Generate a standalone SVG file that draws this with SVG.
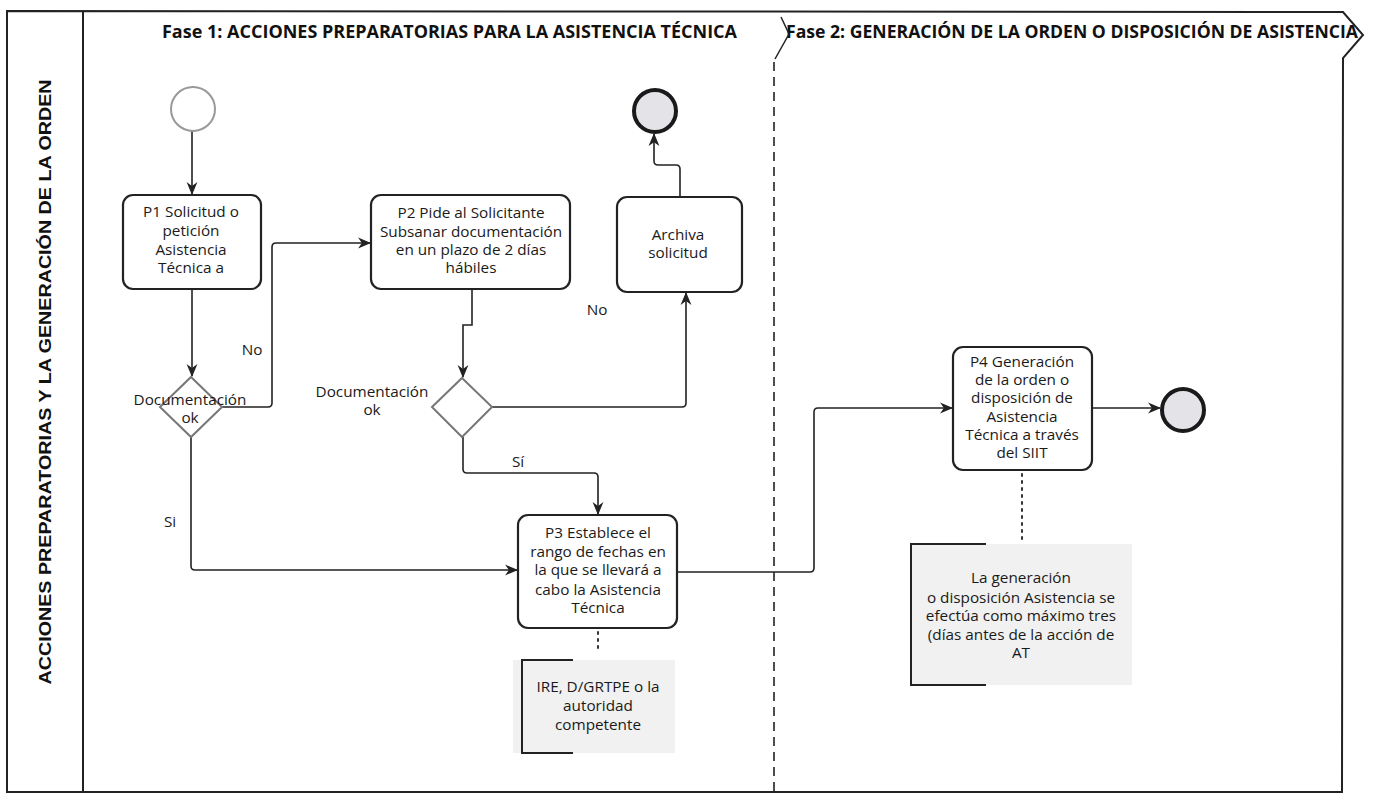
<svg xmlns="http://www.w3.org/2000/svg" width="1375" height="794" viewBox="0 0 1375 794">
<defs>
<marker id="arr" viewBox="0 0 12 12" refX="11" refY="6" markerWidth="13" markerHeight="13" markerUnits="userSpaceOnUse" orient="auto">
<path d="M0,1 L12,6 L0,11 L3.5,6 z" fill="#222"/>
</marker>
<style>
.t{font-family:"Open Sans","Liberation Sans",sans-serif;font-size:15.3px;fill:#1a1a1a;text-anchor:middle}
.h{font-family:"Open Sans","Liberation Sans",sans-serif;font-size:17px;font-weight:bold;fill:#111}
.task{fill:#fff;stroke:#222;stroke-width:2.2}
.gw{fill:#fff;stroke:#777;stroke-width:2}
.end{fill:#e3e3e8;stroke:#1a1a1a;stroke-width:4}
.c{fill:none;stroke:#222;stroke-width:1.6;marker-end:url(#arr)}
.dot{fill:none;stroke:#333;stroke-width:2;stroke-dasharray:2 5;stroke-linecap:round}
.ann{fill:#f1f1f1}
.br{fill:none;stroke:#222;stroke-width:2}
</style>
</defs>
<rect width="1375" height="794" fill="#fff"/>

<g id="pool">
<path d="M7,11 L1343,12 L1363,35 L1343,58 L1342,792 L7,792 Z" fill="none" stroke="#222" stroke-width="2"/>
<line x1="83" y1="11" x2="83" y2="792" stroke="#222" stroke-width="2"/>
<text transform="translate(51,382) rotate(-90)" text-anchor="middle" font-family="'Liberation Sans',Arial,sans-serif" font-weight="bold" font-size="17" textLength="605" lengthAdjust="spacingAndGlyphs" fill="#111">ACCIONES PREPARATORIAS Y LA GENERACIÓN DE LA ORDEN</text>
</g>

<g id="phases">
<text class="h" x="162" y="38" textLength="575" lengthAdjust="spacingAndGlyphs">Fase 1: ACCIONES PREPARATORIAS PARA LA ASISTENCIA TÉCNICA</text>
<text class="h" x="786" y="38" textLength="572" lengthAdjust="spacingAndGlyphs">Fase 2: GENERACIÓN DE LA ORDEN O DISPOSICIÓN DE ASISTENCIA</text>
<path d="M781,17 L789,34 L775,59" fill="none" stroke="#222" stroke-width="1.5"/>
<line x1="774" y1="62" x2="774" y2="792" stroke="#222" stroke-width="1.6" stroke-dasharray="9 6"/>
</g>

<g id="connectors">
<path class="c" d="M192,131 L192,194"/>
<path class="c" d="M192,289 L192,376"/>
<path class="c" d="M222,407 L268,407 Q272,407 272,403 L272,247 Q272,243 276,243 L370,243"/>
<path class="c" d="M191,437 L191,566 Q191,570 195,570 L517,570"/>
<path class="c" d="M472,289 L472,325 L463,325 L463,377"/>
<path class="c" d="M492,407 L682,407 Q686,407 686,403 L686,293"/>
<path class="c" d="M463,437 L463,469 Q463,473 467,473 L594,473 Q598,473 598,477 L598,514"/>
<path class="c" d="M680,197 L680,169 Q680,165 676,165 L658,165 Q654,165 654,161 L654,134"/>
<path class="c" d="M677,572 L810,572 Q814,572 814,568 L814,412 Q814,408 818,408 L952,408"/>
<path class="c" d="M1092,408 L1160,408"/>
<path class="dot" d="M598,632 L598,652"/>
<path class="dot" d="M1022,474 L1022,540"/>
<text class="t" x="252" y="355">No</text>
<text class="t" x="170" y="527">Si</text>
<text class="t" x="597" y="315">No</text>
<text class="t" x="518" y="467">Sí</text>
</g>

<g id="start">
<circle cx="193" cy="109" r="22" fill="#fff" stroke="#999" stroke-width="2"/>
</g>

<g id="p1">
<rect class="task" x="123" y="195" width="138" height="94" rx="10"/>
<text class="t" x="191" y="217">P1 Solicitud o</text>
<text class="t" x="191" y="236">petición</text>
<text class="t" x="191" y="255">Asistencia</text>
<text class="t" x="191" y="273">Técnica a</text>
</g>

<g id="d1">
<path class="gw" d="M191,377 L222,407 L191,437 L160,407 Z"/>
<text class="t" x="190" y="405">Documentación</text>
<text class="t" x="190" y="423">ok</text>
</g>

<g id="p2">
<rect class="task" x="371" y="195" width="199" height="94" rx="10"/>
<text class="t" x="471" y="218">P2 Pide al Solicitante</text>
<text class="t" x="471" y="237">Subsanar documentación</text>
<text class="t" x="471" y="255">en un plazo de 2 días</text>
<text class="t" x="471" y="273">hábiles</text>
</g>

<g id="d2">
<path class="gw" d="M462,378 L492,407 L462,437 L432,407 Z"/>
<text class="t" x="372" y="397">Documentación</text>
<text class="t" x="372" y="415">ok</text>
</g>

<g id="archiva">
<rect class="task" x="617" y="197" width="125" height="95" rx="10"/>
<text class="t" x="678" y="240">Archiva</text>
<text class="t" x="678" y="258">solicitud</text>
</g>

<g id="end1">
<circle class="end" cx="655" cy="111" r="21"/>
</g>

<g id="p3">
<rect class="task" x="518" y="515" width="159" height="113" rx="10"/>
<text class="t" x="598" y="538">P3 Establece el</text>
<text class="t" x="598" y="557">rango de fechas en</text>
<text class="t" x="598" y="575">la que se llevará a</text>
<text class="t" x="598" y="595">cabo la Asistencia</text>
<text class="t" x="598" y="613">Técnica</text>
</g>

<g id="annot1">
<rect class="ann" x="513" y="660" width="162" height="93"/>
<path class="br" d="M573,660 L522,660 L522,753 L573,753"/>
<text class="t" x="598" y="692">IRE, D/GRTPE o la</text>
<text class="t" x="598" y="711">autoridad</text>
<text class="t" x="598" y="730">competente</text>
</g>

<g id="p4">
<rect class="task" x="953" y="347" width="139" height="123" rx="10"/>
<text class="t" x="1022" y="367">P4 Generación</text>
<text class="t" x="1022" y="385">de la orden o</text>
<text class="t" x="1022" y="403">disposición de</text>
<text class="t" x="1022" y="422">Asistencia</text>
<text class="t" x="1022" y="440">Técnica a través</text>
<text class="t" x="1022" y="458">del SIIT</text>
</g>

<g id="end2">
<circle class="end" cx="1183" cy="410" r="21"/>
</g>

<g id="annot2">
<rect class="ann" x="911" y="544" width="221" height="141"/>
<path class="br" d="M986,544 L911,544 L911,685 L986,685"/>
<text class="t" x="1021" y="583">La generación</text>
<text class="t" x="1021" y="603">o disposición Asistencia se</text>
<text class="t" x="1021" y="621">efectúa como máximo tres</text>
<text class="t" x="1021" y="640">(días antes de la acción de</text>
<text class="t" x="1021" y="658">AT</text>
</g>
</svg>
